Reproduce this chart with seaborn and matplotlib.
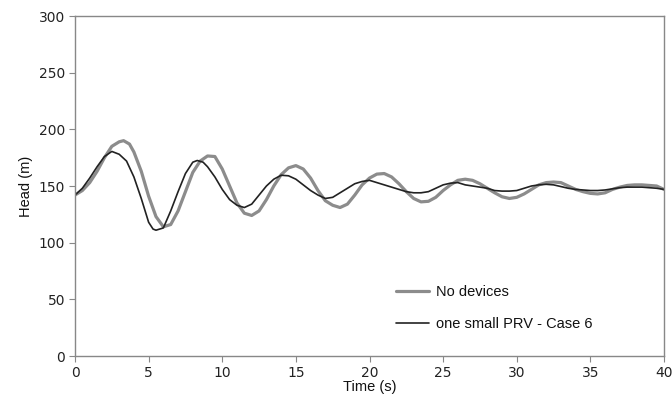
import numpy as np
import pandas as pd
import matplotlib
matplotlib.use("Agg")
import matplotlib.pyplot as plt
import seaborn as sns

# Data
t_nodev = [0, 0.5, 1, 1.5, 2, 2.5, 3, 3.3, 3.7, 4, 4.5, 5, 5.5, 6, 6.5, 7, 7.5, 8, 8.5, 9,
           9.5, 10, 10.5, 11, 11.5, 12, 12.5, 13, 13.5, 14, 14.5, 15, 15.5, 16, 16.5, 17,
           17.5, 18, 18.5, 19, 19.5, 20, 20.5, 21, 21.5, 22, 22.5, 23, 23.5, 24, 24.5, 25,
           25.5, 26, 26.5, 27, 27.5, 28, 28.5, 29, 29.5, 30, 30.5, 31, 31.5, 32, 32.5, 33,
           33.5, 34, 34.5, 35, 35.5, 36, 36.5, 37, 37.5, 38, 38.5, 39, 39.5, 40]
h_nodev = [142, 146, 153, 163, 175, 185, 189, 190, 187, 180, 163, 141, 123, 114, 116, 128,
           145, 162, 172, 176.5, 176, 165, 150, 135, 126, 124, 128, 138, 150, 160, 166, 168,
           165, 157, 146, 137, 133, 131, 134, 142, 151, 157, 160.5, 161, 158, 152, 145, 139,
           136, 136.5, 140, 146, 151, 155, 156, 155, 152, 148, 144, 140.5, 139, 140, 143,
           147, 151, 153, 153.5, 153, 150, 147, 145, 143.5, 143, 144, 147, 149, 150.5, 151,
           151, 150.5, 150, 147]

t_prv = [0, 0.5, 1, 1.5, 2, 2.5, 3, 3.5, 4, 4.5, 5, 5.3, 5.5, 6, 6.5, 7, 7.5, 8, 8.3, 8.7,
         9, 9.5, 10, 10.5, 11, 11.5, 12, 12.5, 13, 13.5, 14, 14.5, 15, 15.5, 16, 16.5, 17,
         17.5, 18, 18.5, 19, 19.5, 20, 20.5, 21, 21.5, 22, 22.5, 23, 23.5, 24, 24.5, 25,
         25.5, 26, 26.5, 27, 27.5, 28, 28.5, 29, 29.5, 30, 30.5, 31, 31.5, 32, 32.5, 33,
         33.5, 34, 34.5, 35, 35.5, 36, 36.5, 37, 37.5, 38, 38.5, 39, 39.5, 40]
h_prv = [142, 148, 157, 167, 176, 180.5, 178, 172, 158, 139, 118, 112, 111, 113, 128, 145,
         161, 171, 172.5, 171, 167, 158, 147, 138, 133, 131, 134, 142, 150, 156, 159.5, 159,
         156, 151, 146, 142, 139, 140, 144, 148, 152, 154, 155, 153, 151, 149, 147, 145, 144,
         144, 145, 148, 151, 152.5, 153, 151, 150, 149, 148, 146, 145.5, 145.5, 146, 148,
         150, 151, 151.5, 151, 149.5, 148, 147, 146.5, 146, 146, 146.5, 147.5, 148.5, 149,
         149, 149, 148.5, 148, 147]

series_names = ["No devices", "one small PRV - Case 6"]
x_ticks = [0, 5, 10, 15, 20, 25, 30, 35, 40]
y_ticks = [0, 50, 100, 150, 200, 250, 300]

df = pd.concat([
    pd.DataFrame({"Time": t_nodev, "Head": h_nodev, "Series": series_names[0]}),
    pd.DataFrame({"Time": t_prv, "Head": h_prv, "Series": series_names[1]}),
], ignore_index=True)

sns.set_theme(style="white")
plt.rcParams["font.family"] = ["DejaVu Sans"]

fig = plt.figure(figsize=(6.72, 4.12), dpi=100)
ax = fig.add_axes([75/672, 56/412, 589/672, 340/412])

sns.lineplot(data=df, x="Time", y="Head", hue="Series", size="Series",
             sizes={series_names[0]: 2.3, series_names[1]: 1.2},
             palette={series_names[0]: "#8c8c8c", series_names[1]: "#222222"},
             ax=ax, sort=False, estimator=None)

ax.set_xlim(0, 40)
ax.set_ylim(0, 300)
ax.set_xticks(x_ticks)
ax.set_yticks(y_ticks)
ax.tick_params(axis="both", direction="out", length=4, width=0.8, color="#888888",
               labelsize=10, labelcolor="#222222", pad=3)
ax.tick_params(axis="both", which="both", bottom=True, left=True)
for s in ax.spines.values():
    s.set_color("#888888")
    s.set_linewidth(1.0)

ax.set_xlabel("Time (s)", fontsize=10.5, family="Liberation Sans", color="#111111", labelpad=0)
ax.set_ylabel("Head (m)", fontsize=10.5, family="Liberation Sans", color="#111111", labelpad=4)

leg = ax.legend(loc="upper left", bbox_to_anchor=(0.522, 0.247), frameon=False,
                handlelength=2.3, labelspacing=1.25, handletextpad=0.5,
                prop={"family": "Liberation Sans", "size": 10.5})
for txt in leg.get_texts():
    txt.set_color("#111111")

fig.savefig("out.png", dpi=100)
